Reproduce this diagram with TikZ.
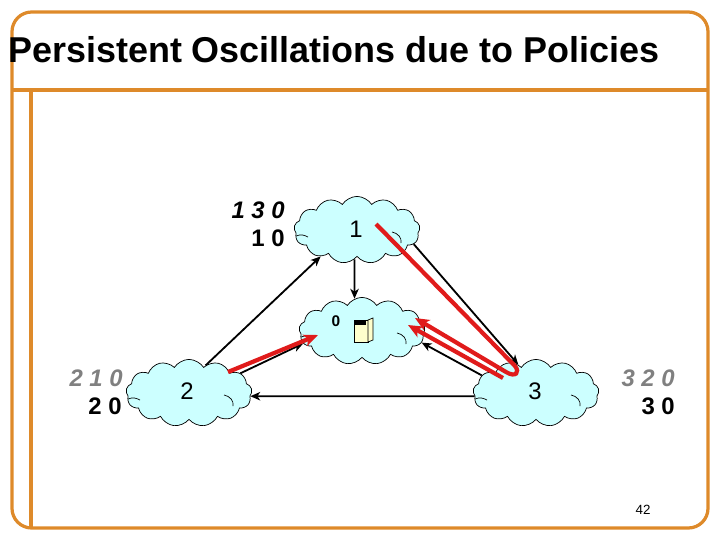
\documentclass[tikz,border=0pt]{standalone}
\usepackage{fontspec}
\setmainfont{Liberation Sans}
\usetikzlibrary{shapes.symbols,arrows.meta}
\definecolor{framecol}{HTML}{DE8A2A}
\definecolor{cloudcol}{HTML}{CCFFFF}
\definecolor{redcol}{HTML}{E01B1B}
\definecolor{graycol}{HTML}{808080}
\definecolor{boxcol}{HTML}{FFFFCC}
\tikzset{
  framelink/.style={draw=framecol,line width=2.3pt},
  netcloud/.style={cloud,cloud puffs=13,cloud puff arc=115,cloud ignores aspect,draw,fill=cloudcol,line width=0.5pt,
    minimum width=3.15cm,minimum height=1.68cm,inner sep=0pt},
  blackarrow/.style={-{Stealth[length=7pt,width=6pt,inset=2pt]},line width=1.3pt},
  redarrow/.style={-{Stealth[length=10pt,width=8.5pt,inset=2.5pt]},draw=redcol,line width=3pt},
  pathlabel/.style={anchor=east,inner sep=0pt,font=\bfseries\fontsize{17}{17}\selectfont},
}
\begin{document}
\begin{tikzpicture}[x=0.025cm,y=-0.025cm]
	\useasboundingbox (0,0) rectangle (720,540);
	% slide frame
	\draw[framelink,rounded corners=14pt] (12,12) rectangle (708,528);
	\draw[framelink] (12,90) -- (708,90);
	\draw[framelink] (31,90) -- (31,528);
	\node[anchor=base west,inner sep=0pt,font=\bfseries\fontsize{25.55}{26}\selectfont] (title) at (8,62) {Persistent Oscillations due to Policies};
	% clouds
	\node[netcloud] (c1) at (357,230) {};
	\node[netcloud] (c0) at (362,331) {};
	\node[netcloud] (c2) at (189,393) {};
	\node[netcloud] (c3) at (536,393) {};
	\foreach \n in {c1,c0,c2,c3} {
		\draw[line width=0.5pt] ([shift={(-61,6)}]\n.center) .. controls ([shift={(-56,4)}]\n.center) and ([shift={(-53,5)}]\n.center) .. ([shift={(-49,7)}]\n.center);
		\draw[line width=0.5pt] ([shift={(35,2)}]\n.center) .. controls ([shift={(41,3)}]\n.center) and ([shift={(45,8)}]\n.center) .. ([shift={(44,13)}]\n.center);
	}
	\node[font=\fontsize{17}{17}\selectfont,inner sep=0pt] (n1) at (356,229) {1};
	\node[font=\fontsize{17}{17}\selectfont,inner sep=0pt] (n2) at (187,391) {2};
	\node[font=\fontsize{17}{17}\selectfont,inner sep=0pt] (n3) at (535,391) {3};
	\node[font=\bfseries\fontsize{11}{11}\selectfont,inner sep=0pt] (n0) at (336,321) {0};
	% server icon
	\draw[fill=boxcol,line width=0.5pt] (354,320) -- (368,320) -- (368,342) -- (354,342) -- cycle;
	\draw[fill=boxcol,line width=0.5pt] (368,320) -- (373,318) -- (373,340) -- (368,342) -- cycle;
	\fill (354,320) rectangle (366,325);
	% path labels
	\node[pathlabel] (l1a) at (285,210) {\textit{1 3 0}};
	\node[pathlabel] (l1b) at (285,238) {1 0};
	\node[pathlabel,text=graycol] (l2a) at (123,378) {\textit{2 1 0}};
	\node[pathlabel] (l2b) at (122,406) {2 0};
	\node[pathlabel,text=graycol] (l3a) at (675,378) {\textit{3 2 0}};
	\node[pathlabel] (l3b) at (675,406) {3 0};
	\node[font=\fontsize{9.5}{10}\selectfont,inner sep=0pt] (page) at (643,510) {42};
	% black links
	\draw[blackarrow] (c2.59) -- (c1.216);
	\draw[blackarrow] (c1.265) -- (c0.103);
	\draw[blackarrow] (c2.21) -- (c0.192);
	\draw[blackarrow] (c1.-14) -- (c3.122);
	\draw[blackarrow] (c3.162) -- (c0.-11);
	\draw[blackarrow] (c3.183) -- (c2.-3);
	% red paths
	\coordinate (r1) at (376,224);
	\coordinate (r2) at (515,366);
	\coordinate (r3) at (506,372);
	\coordinate (r4) at (415,318);
	\coordinate (r5) at (503,378);
	\coordinate (r6) at (408,325);
	\coordinate (r7) at (228,372);
	\coordinate (r8) at (318,335);
	\draw[redarrow] (r1) -- (r2) .. controls (520,372) and (516,378) .. (r3) -- (r4);
	\draw[redarrow] (r5) -- (r6);
	\draw[redarrow] (r7) -- (r8);
\end{tikzpicture}
\end{document}
